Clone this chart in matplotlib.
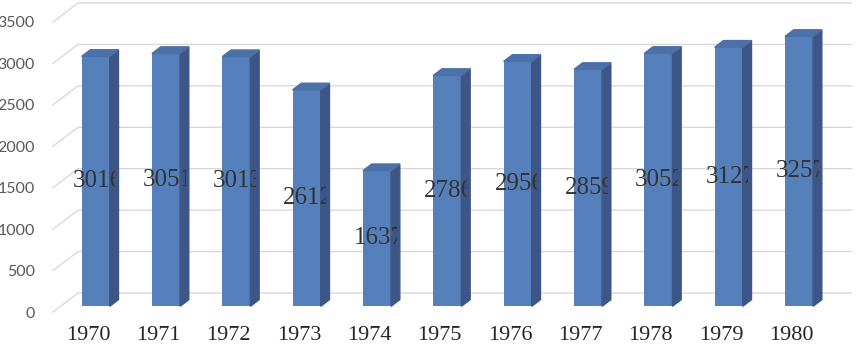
import matplotlib.pyplot as plt
from matplotlib.patches import Polygon, Rectangle

# data
years = ['1970', '1971', '1972', '1973', '1974', '1975', '1976', '1977', '1978', '1979', '1980']
values = [3016, 3051, 3013, 2612, 1637, 2786, 2956, 2859, 3052, 3127, 3257]
y_ticks = [0, 500, 1000, 1500, 2000, 2500, 3000, 3500]

# fake 3d depth (data units)
DX = 25 / 70.35
DY = 19 / (290 / 3500)
f0, f1 = 0.3, 0.65
hw = 0.2

front_c = '#5680bc'
side_c = '#3d5686'
top_c = '#4c70a8'

fig = plt.figure(figsize=(8.57, 3.5), dpi=100)
ax = fig.add_axes([53 / 857, 38 / 350, 773.7 / 857, 290 / 350])
ax.set_xlim(-0.5, 10.5)
ax.set_ylim(0, 3500)
for s in ax.spines.values():
    s.set_visible(False)

# gridlines: diagonal on the side wall + horizontal on back wall
for t in y_ticks:
    ax.plot([-0.5, -0.5 + DX, 10.5 + DX], [t, t + DY, t + DY],
            color='#d9d9d9', lw=1, clip_on=False, zorder=1)

x = list(range(len(years)))
ax.bar([i + f0 * DX for i in x], values, bottom=f0 * DY, width=2 * hw,
       color=front_c, zorder=3, clip_on=False)

for i, v in zip(x, values):
    def p(xx, yy, d):
        return (xx + d * DX, yy + d * DY)
    side = Polygon([p(i + hw, 0, f0), p(i + hw, 0, f1), p(i + hw, v, f1), p(i + hw, v, f0)],
                   closed=True, color=side_c, zorder=5, clip_on=False)
    top = Polygon([p(i - hw, v, f0), p(i + hw, v, f0), p(i + hw, v, f1), p(i - hw, v, f1)],
                  closed=True, color=top_c, zorder=5, clip_on=False)
    ax.add_patch(side)
    ax.add_patch(top)
    # label sits inside the bar, the part past the front face is hidden
    txt = ax.text(i + 0.13, v / 2 + f0 * DY, str(v), ha='center', va='center',
                  fontsize=18, family='Liberation Serif', color='#333333', zorder=6)
    clip = Rectangle((-2, -1000), i + 0.385 + 2, 6000, transform=ax.transData)
    txt.set_clip_on(True)
    txt.set_clip_path(clip)

ax.set_yticks(y_ticks)
ax.set_yticklabels([str(t) for t in y_ticks], fontsize=11.5, family='Lato', color='#595959')
ax.set_xticks(x)
ax.set_xticklabels(years, fontsize=16, family='Liberation Serif', color='#262626')
ax.tick_params(axis='y', length=0, pad=13)
ax.tick_params(axis='x', length=0, pad=10)

fig.savefig('out.png', dpi=100)
